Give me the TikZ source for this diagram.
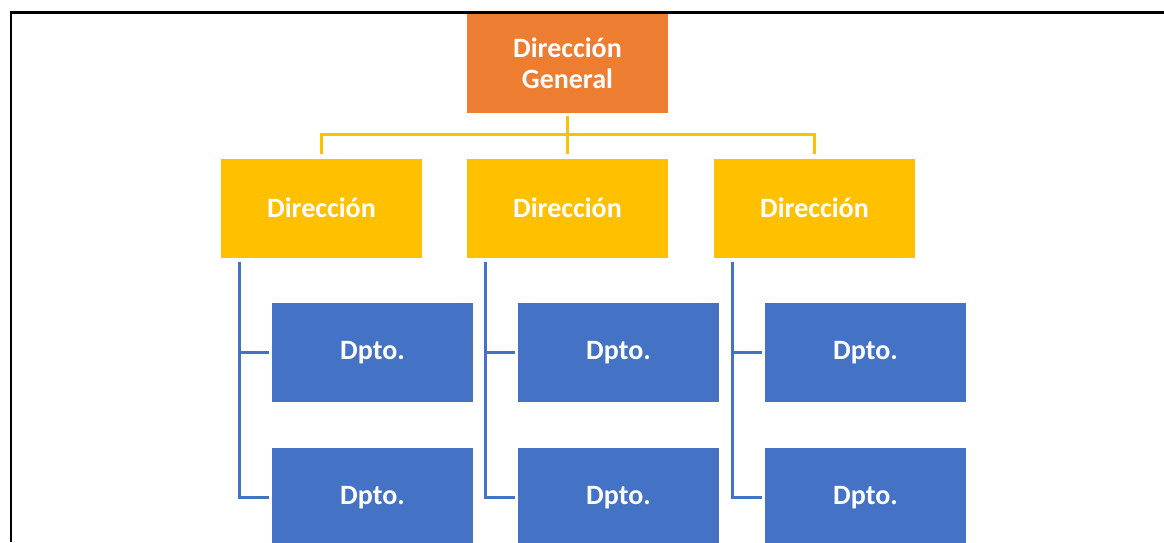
\documentclass[tikz,border=0pt]{standalone}
\usepackage{fontspec}
\setmainfont{Carlito}
\definecolor{orgorange}{HTML}{ED7D31}
\definecolor{orgyellow}{HTML}{FFC000}
\definecolor{orgblue}{HTML}{4472C4}
\tikzset{
  unitbox/.style={rectangle, minimum width=201pt, minimum height=99pt, inner sep=0pt,
    text=white, font=\fontsize{28}{31}\selectfont\bfseries, align=center},
  headbox/.style={unitbox, fill=orgorange},
  dirbox/.style={unitbox, fill=orgyellow},
  deptbox/.style={unitbox, fill=orgblue},
  ylink/.style={draw=orgyellow, line width=2.7pt},
  blink/.style={draw=orgblue, line width=2.7pt},
  frameline/.style={draw=black, line width=2.4pt}
}
\begin{document}
\begin{tikzpicture}[x=1pt, y=-1pt]
\useasboundingbox (0,0) rectangle (1164,542);
% page frame
\draw[frameline] (11,542) -- (11,12.5) -- (1164,12.5);

% general direction
\node[headbox] (top) at (567.5,63.5) {Dirección\\General};

% directions
\node[dirbox] (d1) at (321.5,208) {Dirección};
\node[dirbox] (d2) at (567.5,208) {Dirección};
\node[dirbox] (d3) at (814.5,208) {Dirección};

% departments
\foreach \c/\x in {1/372.5, 2/618.5, 3/865.5}{
  \node[deptbox] (p\c1) at (\x,352.5) {Dpto.};
  \node[deptbox] (p\c2) at (\x,497.5) {Dpto.};
}

% links from the general direction
\draw[ylink] ([yshift=-3pt]top.south) -- ([yshift=4pt]d2.north);
\draw[ylink] ([yshift=4pt]d1.north) -- ++(0,-19.5) -| ([yshift=4pt]d3.north);

% links to the departments
\foreach \c in {1,2,3}{
  \draw[blink] ([xshift=19pt,yshift=-4pt]d\c.south west) |- ([xshift=-3pt]p\c2.west);
  \draw[blink] ([xshift=19pt]d\c.south west |- p\c1.west) -- ([xshift=-3pt]p\c1.west);
}
\end{tikzpicture}
\end{document}
